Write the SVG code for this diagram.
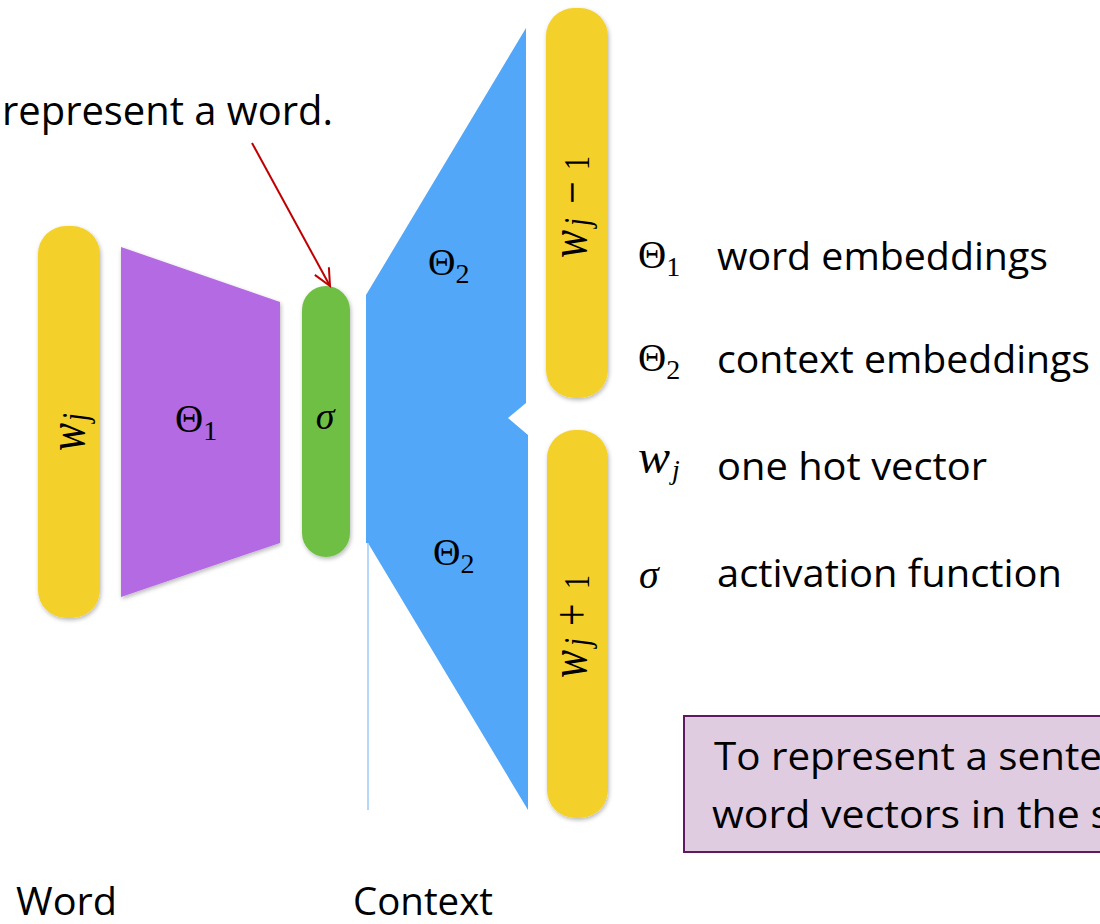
<svg xmlns="http://www.w3.org/2000/svg" width="1100" height="924" viewBox="0 0 1100 924">
  <defs>
    <filter id="soft" x="-20%" y="-10%" width="140%" height="120%">
      <feDropShadow dx="1" dy="2" stdDeviation="2" flood-color="#000" flood-opacity="0.28"/>
    </filter>
    <marker id="vhead" markerUnits="userSpaceOnUse" markerWidth="24" markerHeight="24" viewBox="-20 -12 24 24" refX="0" refY="0" orient="auto">
      <path d="M-17,-8 L0,0 L-17,8" fill="none" stroke="#c00000" stroke-width="2"/>
    </marker>
    <style>
      .txt { font-family: "Open Sans", "Liberation Sans", sans-serif; fill: #000; }
      .math { font-family: "Liberation Serif", "DejaVu Serif", serif; fill: #000; }
      .it { font-style: italic; }
      .up { font-style: normal; }
      .op { font-style: normal; font-size: 40px; }
      .bar { fill: #f4d12b; }
      .sub { font-size: 28px; }
    </style>
  </defs>

  <rect width="1100" height="924" fill="#ffffff"/>

  <!-- caption at top -->
  <text class="txt" x="2" y="125" font-size="40" textLength="331" lengthAdjust="spacingAndGlyphs">represent a word.</text>

  <!-- input one-hot vector -->
  <g id="word-vector">
    <rect class="bar" x="38" y="226" width="62" height="392" rx="28" filter="url(#soft)"/>
    <g transform="translate(84 451) rotate(-90) scale(1 1.25)">
      <text class="math it" x="0" y="0" font-size="42">w<tspan class="sub" dx="2" dy="2.5">j</tspan></text>
    </g>
  </g>

  <!-- word embedding matrix -->
  <g id="theta1">
    <polygon points="121,247 280,302 280,543 121,597" fill="#b36be2" filter="url(#soft)"/>
    <text class="math" x="175" y="432" font-size="39">Θ<tspan class="sub" dy="8">1</tspan></text>
  </g>

  <!-- hidden activation -->
  <g id="sigma">
    <rect x="302" y="286" width="48" height="271" rx="24" fill="#70bf44" filter="url(#soft)"/>
    <text class="math it" x="325" y="429" font-size="38" text-anchor="middle">σ</text>
  </g>

  <!-- context embedding matrices -->
  <g id="theta2">
    <polygon points="526,28 526,403 508,418 528,435 528,810 368,543 366,543 366,295" fill="#52a7f8"/>
    <line x1="368" y1="543" x2="368" y2="810" stroke="#9ccaf8" stroke-width="1.5"/>
    <text class="math" x="428" y="275" font-size="38">Θ<tspan class="sub" dy="8">2</tspan></text>
    <text class="math" x="433" y="565" font-size="38">Θ<tspan class="sub" dy="8">2</tspan></text>
  </g>

  <!-- context word vectors -->
  <g id="context-prev">
    <rect class="bar" x="546" y="8" width="62" height="390" rx="28" filter="url(#soft)"/>
    <g transform="translate(586 258) rotate(-90) scale(1 1.25)">
      <text class="math it" x="0" y="0" font-size="42">w<tspan class="sub" x="32" dy="2.5">j</tspan><tspan class="op" x="54">−</tspan><tspan class="sub up" x="88">1</tspan></text>
    </g>
  </g>
  <g id="context-next">
    <rect class="bar" x="547" y="430" width="61" height="388" rx="28" filter="url(#soft)"/>
    <g transform="translate(586 678) rotate(-90) scale(1 1.25)">
      <text class="math it" x="0" y="0" font-size="42">w<tspan class="sub" x="32" dy="2.5">j</tspan><tspan class="op" x="52">+</tspan><tspan class="sub up" x="89">1</tspan></text>
    </g>
  </g>

  <!-- connectors -->
  <g id="connectors">
    <line x1="252" y1="143" x2="330" y2="286" stroke="#c00000" stroke-width="2" marker-end="url(#vhead)"/>
  </g>

  <!-- legend -->
  <g id="legend">
    <text class="math" x="638" y="268" font-size="39">Θ<tspan class="sub" dy="8">1</tspan></text>
    <text class="txt" x="717" y="270" font-size="38" textLength="331" lengthAdjust="spacingAndGlyphs">word embeddings</text>
    <text class="math" x="638" y="371" font-size="39">Θ<tspan class="sub" dy="8">2</tspan></text>
    <text class="txt" x="717" y="373" font-size="38" textLength="373" lengthAdjust="spacingAndGlyphs">context embeddings</text>
    <text class="math it" x="638" y="473" font-size="48">w<tspan class="sub" dx="2" dy="6">j</tspan></text>
    <text class="txt" x="717" y="480" font-size="38" textLength="270" lengthAdjust="spacingAndGlyphs">one hot vector</text>
    <text class="math it" x="639" y="588" font-size="40">σ</text>
    <text class="txt" x="717" y="587" font-size="38" textLength="345" lengthAdjust="spacingAndGlyphs">activation function</text>
  </g>

  <!-- note box -->
  <g id="note">
    <rect x="684" y="716" width="430" height="136" fill="#e0cce0" stroke="#5e1a5e" stroke-width="2"/>
    <text class="txt" x="714" y="770" font-size="38" textLength="388" lengthAdjust="spacingAndGlyphs">To represent a sente</text>
    <text class="txt" x="712" y="828" font-size="38" textLength="398" lengthAdjust="spacingAndGlyphs">word vectors in the s</text>
  </g>

  <!-- axis captions -->
  <text class="txt" x="16" y="915" font-size="38" textLength="101" lengthAdjust="spacingAndGlyphs">Word</text>
  <text class="txt" x="353" y="915" font-size="38" textLength="140" lengthAdjust="spacingAndGlyphs">Context</text>
</svg>
